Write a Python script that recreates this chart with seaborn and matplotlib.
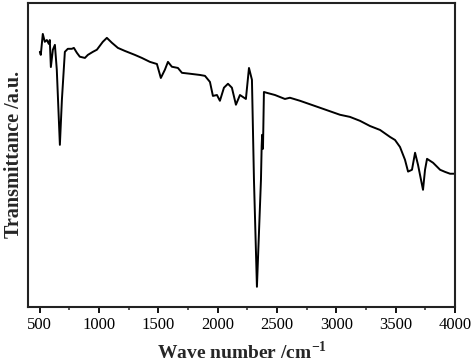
import numpy as np
import pandas as pd
import matplotlib
matplotlib.use("Agg")
import matplotlib.pyplot as plt
import seaborn as sns
from matplotlib.ticker import MultipleLocator

# FTIR spectrum (wave number, transmittance a.u.)
wavenumber = [500, 508, 525, 542, 559, 576, 584, 593, 610, 627, 643, 669, 686, 711,
              736, 770, 787, 812, 837, 880, 905, 947, 981, 1031, 1065, 1107, 1158,
              1217, 1301, 1360, 1428, 1487, 1520, 1554, 1580, 1613, 1664, 1698, 1765,
              1849, 1892, 1934, 1959, 1993, 2018, 2052, 2086, 2119, 2153, 2187, 2237,
              2263, 2288, 2305, 2330, 2364, 2370, 2374, 2381, 2389, 2415, 2482, 2566,
              2608, 2693, 2862, 3030, 3114, 3199, 3283, 3368, 3452, 3494, 3536, 3578,
              3604, 3637, 3663, 3688, 3730, 3747, 3764, 3815, 3874, 3916, 3958, 4000]
transmittance = [83.9, 82.9, 89.8, 87.2, 87.8, 86.5, 87.8, 78.9, 84.6, 86.2, 78.0, 53.3,
                 68.1, 83.9, 84.9, 84.9, 85.2, 83.6, 82.3, 81.9, 82.9, 83.9, 84.6, 87.2,
                 88.5, 86.9, 85.2, 84.2, 82.9, 81.9, 80.6, 79.9, 75.3, 78.0, 80.6, 79.0,
                 78.6, 77.0, 76.7, 76.3, 76.0, 74.0, 69.4, 69.7, 67.8, 72.1, 73.4, 72.1,
                 66.5, 69.7, 68.4, 78.6, 74.7, 41.8, 6.6, 41.8, 53.0, 56.6, 52.0, 70.7,
                 70.4, 69.7, 68.4, 68.8, 67.8, 65.5, 63.2, 62.5, 61.2, 59.5, 58.2, 55.9,
                 54.9, 52.6, 48.4, 44.5, 45.1, 50.7, 46.7, 38.5, 45.1, 48.7, 47.4, 45.1,
                 44.4, 43.8, 43.8]

df = pd.DataFrame({"wn": wavenumber, "T": transmittance})

sns.set_style("ticks")
plt.rcParams["font.family"] = ["Liberation Serif", "DejaVu Serif"]
plt.rcParams["mathtext.fontset"] = "custom"
plt.rcParams["mathtext.rm"] = "Liberation Serif:bold"
plt.rcParams["mathtext.bf"] = "Liberation Serif:bold"

fig = plt.figure(figsize=(4.74, 3.64), dpi=100)
ax = fig.add_axes([0.059, 0.157, 0.901, 0.835])
sns.lineplot(data=df, x="wn", y="T", ax=ax, color="black", linewidth=1.4)

ax.set_xlim(400, 4000)
ax.set_ylim(0, 100)
ax.xaxis.set_major_locator(MultipleLocator(500))
ax.xaxis.set_minor_locator(MultipleLocator(250))
ax.set_yticks([])
ax.tick_params(axis="x", which="major", direction="out", length=4, width=1.3,
               labelsize=12, colors="black", pad=3)
ax.tick_params(axis="x", which="minor", direction="out", length=2.5, width=1.1)
for s in ax.spines.values():
    s.set_visible(True)
    s.set_linewidth(1.5)
    s.set_color("#222222")

ax.set_xlabel(r"Wave number /cm$^{-1}$", fontsize=14, fontweight="bold", labelpad=6)
ax.set_ylabel("Transmittance /a.u.", fontsize=14.5, fontweight="bold", labelpad=3)

fig.savefig("out.png", dpi=100)
